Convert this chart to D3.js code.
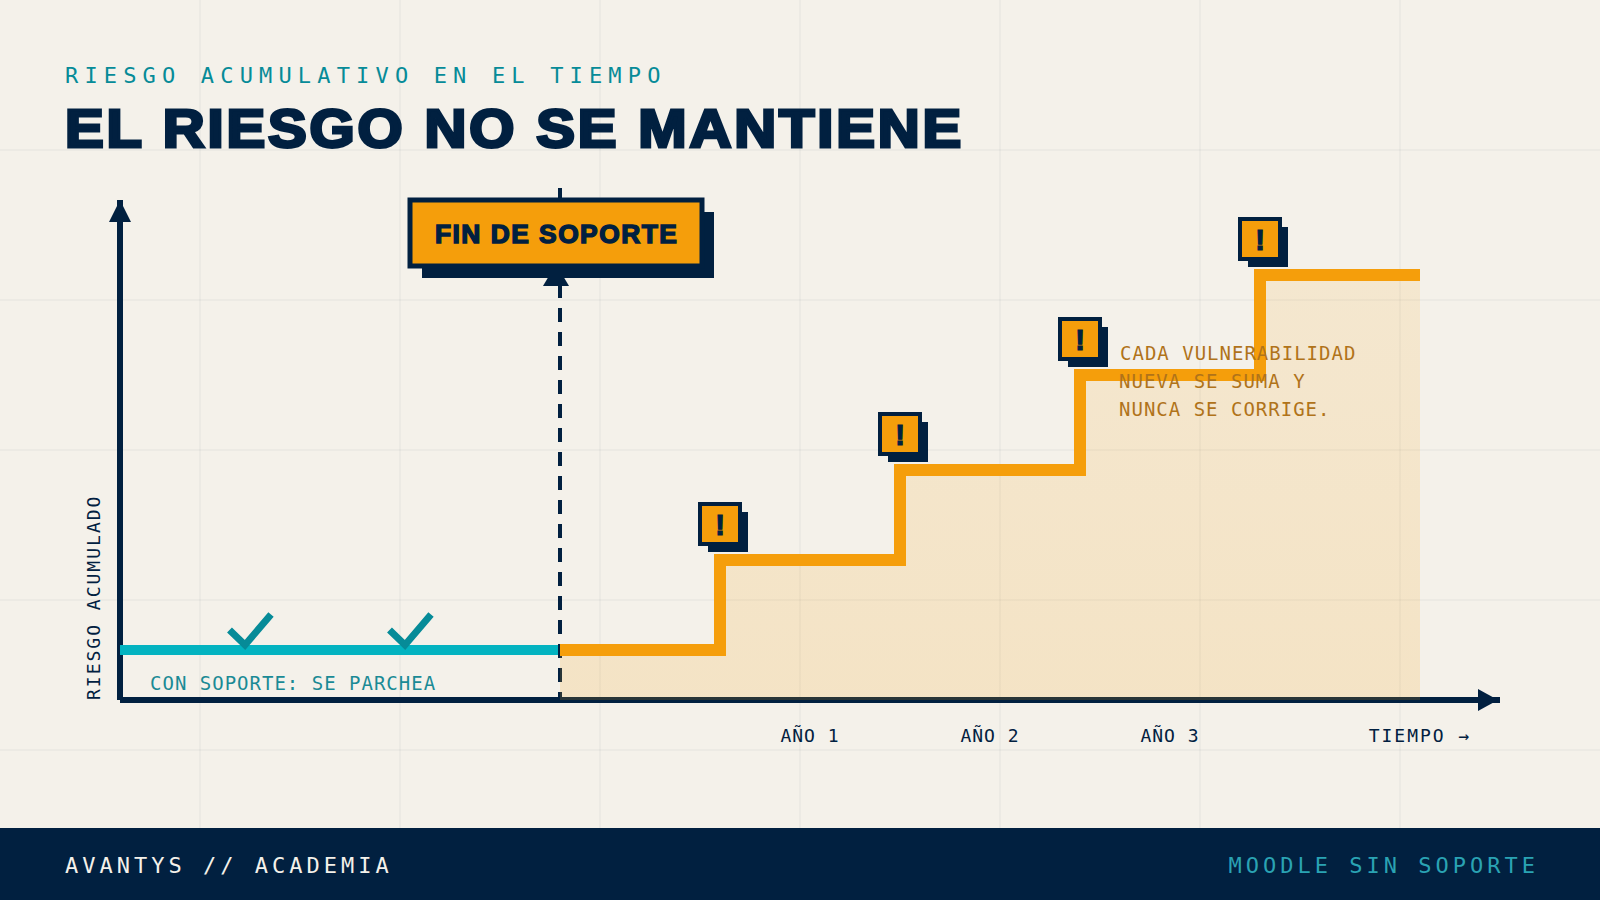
<!DOCTYPE html>
<html lang="es">
<head>
<meta charset="utf-8">
<script src="https://cdn.jsdelivr.net/npm/d3@7/dist/d3.min.js"></script>
<style>
  html, body { margin: 0; padding: 0; background: #f4f1ea; }
  svg { display: block; }
  .mono { font-family: "DejaVu Sans Mono", monospace; }
  .heavy { font-family: "Liberation Sans", Arial, sans-serif; font-weight: 700; }
</style>
</head>
<body>
<svg id="chart" width="1600" height="900"></svg>
<script>
// Time runs along x in abstract units; risk runs along y from 0 to 10.
const supportedTimes = [0, 22];
const supportedRisk = [1, 1];
const stepTimes = [22, 30, 39, 48, 57, 65];
const stepRisk = [1, 2.8, 4.6, 6.5, 8.5, 8.5];
const alertTimes = [30, 39, 48, 57];
const alertRisk = [2.8, 4.6, 6.5, 8.5];
const patchTimes = [6, 14];
const yearLabels = ["AÑO 1", "AÑO 2", "AÑO 3"];
const yearLabelTimes = [34.5, 43.5, 52.5];
const timeLabel = "TIEMPO →";
const timeLabelAt = 65;
const noteLines = ["CADA VULNERABILIDAD", "NUEVA SE SUMA Y", "NUNCA SE CORRIGE."];

const NAVY = "#012040", ORANGE = "#f59e0b", TEAL = "#03b3c0", TEAL_DARK = "#068b98";

const svg = d3.select("#chart");
const x = d3.scaleLinear().domain([0, 69]).range([120, 1500]);
const y = d3.scaleLinear().domain([0, 10]).range([700, 200]);

// Vertical wash under the staircase, a little stronger towards the baseline
const wash = svg.append("defs").append("linearGradient").attr("id", "wash")
  .attr("gradientUnits", "userSpaceOnUse").attr("x1", 0).attr("x2", 0).attr("y1", 270).attr("y2", 700);
wash.append("stop").attr("offset", 0).attr("stop-color", ORANGE).attr("stop-opacity", 0.12);
wash.append("stop").attr("offset", 1).attr("stop-color", ORANGE).attr("stop-opacity", 0.165);

// Background sheet and faint grid
svg.append("rect").attr("width", 1600).attr("height", 900).attr("fill", "#f4f1ea");
const grid = svg.append("g").attr("stroke", NAVY).attr("stroke-opacity", 0.03).attr("stroke-width", 2);
grid.selectAll("line.v").data(d3.range(200, 1600, 200)).join("line").attr("class", "v")
  .attr("x1", d => d).attr("x2", d => d).attr("y1", 0).attr("y2", 900);
grid.selectAll("line.h").data(d3.range(150, 900, 150)).join("line").attr("class", "h")
  .attr("x1", 0).attr("x2", 1600).attr("y1", d => d).attr("y2", d => d);

// Headings
svg.append("text").attr("class", "mono").attr("x", 65).attr("y", 83)
  .attr("font-size", 22).attr("letter-spacing", 6.16).attr("fill", TEAL_DARK)
  .text("RIESGO ACUMULATIVO EN EL TIEMPO");
svg.append("text").attr("class", "heavy").attr("x", 65).attr("y", 146.8)
  .attr("font-size", 53).attr("letter-spacing", 2.6).attr("fill", NAVY)
  .attr("stroke", NAVY).attr("stroke-width", 3).attr("stroke-linejoin", "miter")
  .attr("transform", "translate(65,0) scale(1.095,1) translate(-65,0)")
  .text("EL RIESGO NO SE MANTIENE");

// Axes with arrowheads
svg.append("line").attr("x1", x(0)).attr("x2", x(0)).attr("y1", y(0)).attr("y2", y(10))
  .attr("stroke", NAVY).attr("stroke-width", 6);
svg.append("line").attr("x1", x(0)).attr("x2", x(69)).attr("y1", y(0)).attr("y2", y(0))
  .attr("stroke", NAVY).attr("stroke-width", 6);
svg.append("path").attr("d", "M109 222 L120 200 L131 222 Z").attr("fill", NAVY);
svg.append("path").attr("d", "M1478 689 L1498 700 L1478 711 Z").attr("fill", NAVY);

// Patched period and its check marks
const supported = supportedTimes.map((t, i) => [t, supportedRisk[i]]);
svg.append("path")
  .attr("d", d3.line().x(d => x(d[0])).y(d => y(d[1]))(supported))
  .attr("fill", "none").attr("stroke", TEAL).attr("stroke-width", 10);
svg.selectAll("path.check").data(patchTimes).join("path").attr("class", "check")
  .attr("transform", d => `translate(${x(d)},${y(1)})`)
  .attr("d", "M-10.5 -20 L5 -5 L31 -35.5")
  .attr("fill", "none").attr("stroke", TEAL_DARK).attr("stroke-width", 7);

// End-of-support marker
svg.append("line").attr("x1", x(22)).attr("x2", x(22)).attr("y1", 188).attr("y2", y(0))
  .attr("stroke", NAVY).attr("stroke-width", 4).attr("stroke-dasharray", "14 10");

// Accumulated risk: area under the staircase
const steps = stepTimes.map((t, i) => [t, stepRisk[i]]);
svg.append("path")
  .attr("d", d3.area().x(d => x(d[0])).y0(y(0)).y1(d => y(d[1])).curve(d3.curveStepAfter)(steps))
  .attr("fill", "url(#wash)");

// Unsupported staircase
svg.append("path")
  .attr("d", d3.line().x(d => x(d[0])).y(d => y(d[1])).curve(d3.curveStepAfter)(steps))
  .attr("fill", "none").attr("stroke", ORANGE).attr("stroke-width", 12);

// Alert badges at each new vulnerability
const badges = svg.selectAll("g.badge").data(alertTimes.map((t, i) => [t, alertRisk[i]])).join("g")
  .attr("class", "badge")
  .attr("transform", d => `translate(${x(d[0])},${y(d[1]) - 36})`);
badges.append("rect").attr("x", -12).attr("y", -12).attr("width", 40).attr("height", 40).attr("fill", NAVY);
badges.append("rect").attr("x", -20).attr("y", -20).attr("width", 40).attr("height", 40)
  .attr("fill", ORANGE).attr("stroke", NAVY).attr("stroke-width", 4);
badges.append("text").attr("class", "heavy").attr("text-anchor", "middle").attr("y", 10.5)
  .attr("font-size", 29).attr("fill", NAVY).attr("stroke", NAVY).attr("stroke-width", 1.2).text("!");

// Callout for the end of support
svg.append("path").attr("d", "M543 286 L556 264 L569 286 Z").attr("fill", NAVY);
svg.append("rect").attr("x", 422).attr("y", 212).attr("width", 292).attr("height", 66).attr("fill", NAVY);
svg.append("rect").attr("x", 410).attr("y", 200).attr("width", 292).attr("height", 66)
  .attr("fill", ORANGE).attr("stroke", NAVY).attr("stroke-width", 5);
svg.append("text").attr("class", "heavy").attr("x", 435).attr("y", 243)
  .attr("font-size", 25).attr("letter-spacing", 1.4).attr("fill", NAVY)
  .attr("stroke", NAVY).attr("stroke-width", 1.4).attr("stroke-linejoin", "miter")
  .attr("transform", "translate(435,0) scale(1.055,1) translate(-435,0)")
  .text("FIN DE SOPORTE");

// Axis captions and annotations
svg.append("text").attr("class", "mono").attr("transform", "translate(100,700) rotate(-90)")
  .attr("font-size", 18).attr("letter-spacing", 2).attr("fill", NAVY).text("RIESGO ACUMULADO");
svg.append("text").attr("class", "mono").attr("x", 150).attr("y", 690)
  .attr("font-size", 19).attr("letter-spacing", 1).attr("fill", "#1a8a95").text("CON SOPORTE: SE PARCHEA");
svg.selectAll("text.year").data(yearLabels).join("text").attr("class", "mono year")
  .attr("x", (d, i) => x(yearLabelTimes[i])).attr("y", 742).attr("text-anchor", "middle")
  .attr("font-size", 18).attr("letter-spacing", 1).attr("fill", NAVY).text(d => d);
svg.append("text").attr("class", "mono")
  .attr("x", x(timeLabelAt)).attr("y", 742).attr("text-anchor", "middle")
  .attr("font-size", 18).attr("letter-spacing", 2).attr("fill", NAVY).text(timeLabel);
svg.selectAll("text.note").data(noteLines).join("text").attr("class", "mono note")
  .attr("x", (d, i) => (i === 0 ? 1120 : 1119)).attr("y", (d, i) => 360 + i * 28)
  .attr("font-size", 19).attr("letter-spacing", 1).attr("fill", "#b0731a").text(d => d);

// Footer band
svg.append("rect").attr("x", 0).attr("y", 828).attr("width", 1600).attr("height", 72).attr("fill", NAVY);
svg.append("text").attr("class", "mono").attr("x", 65).attr("y", 873)
  .attr("font-size", 22).attr("letter-spacing", 4).attr("fill", "#f4f1ea").text("AVANTYS // ACADEMIA");
svg.append("text").attr("class", "mono").attr("x", 1539).attr("y", 873).attr("text-anchor", "end")
  .attr("font-size", 22).attr("letter-spacing", 4).attr("fill", "#2aa3b3").text("MOODLE SIN SOPORTE");
</script>
</body>
</html>
